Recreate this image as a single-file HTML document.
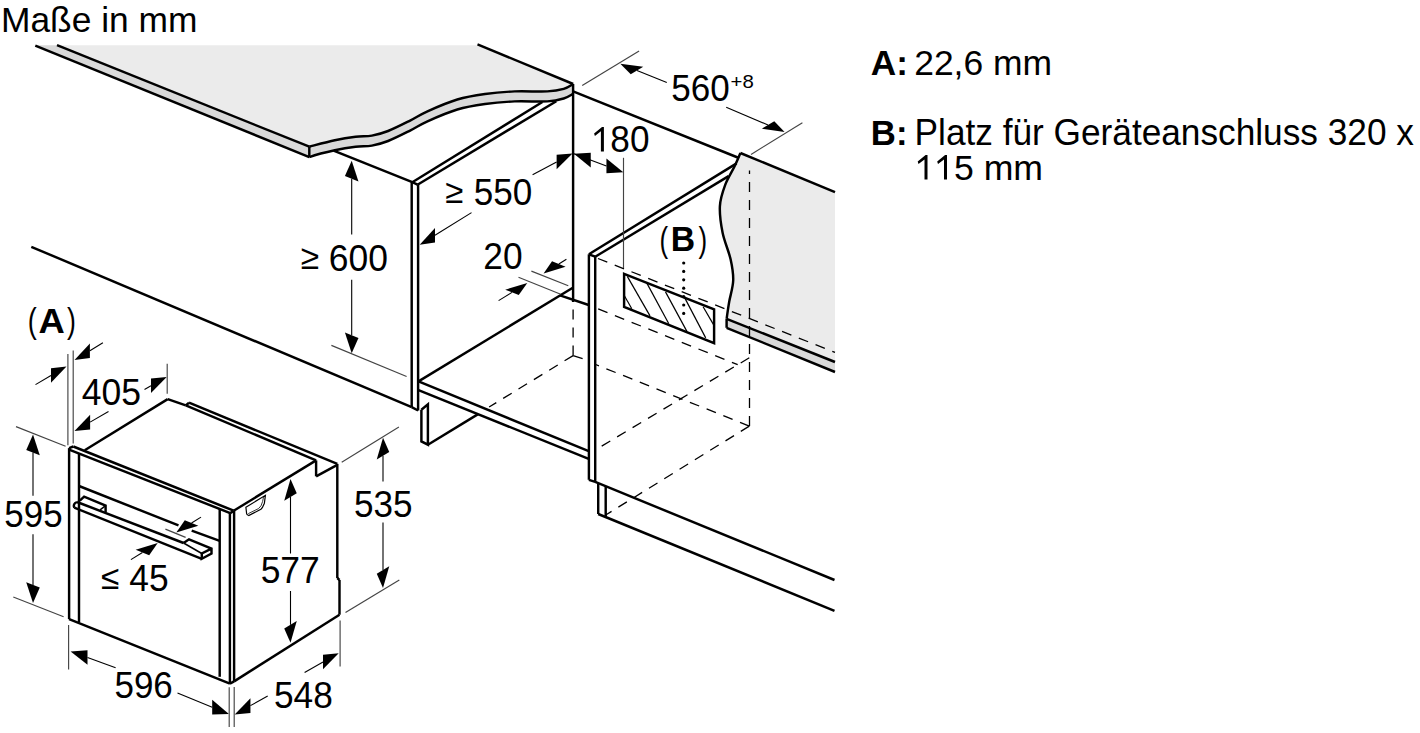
<!DOCTYPE html>
<html><head><meta charset="utf-8"><style>
html,body{margin:0;padding:0;background:#fff;width:1420px;height:733px;overflow:hidden}
svg{display:block}
text{font-family:"Liberation Sans",sans-serif;fill:#000}
</style></head><body>
<svg width="1420" height="733" viewBox="0 0 1420 733">
<g stroke="#000" stroke-linecap="butt" stroke-linejoin="miter" fill="none">
<path d="M57,45.3 L479.4,45.3 L573.2,84 C571.62,84.82 568.02,87.67 563.7,88.9 C559.38,90.13 555.48,90.98 547.3,91.4 C539.12,91.82 524.98,90.97 514.6,91.4 C504.22,91.83 494.55,92.65 485,94 C475.45,95.35 466.88,96.62 457.3,99.5 C447.72,102.38 435.37,107.78 427.5,111.3 C419.63,114.82 416.67,117.32 410.1,120.6 C403.53,123.88 394.47,128.5 388.1,131 C381.73,133.5 377.32,134.63 371.9,135.6 C366.48,136.57 361.78,136.02 355.6,136.8 C349.42,137.58 342.52,138.65 334.8,140.3 C327.08,141.95 313.55,145.63 309.3,146.7 Z" stroke-width="0" fill="#ebebeb" stroke="none"/>
<path d="M35.4,45.3 L57,45.3 L309.3,146.7 C313.55,145.63 327.08,141.95 334.8,140.3 C342.52,138.65 349.42,137.58 355.6,136.8 C361.78,136.02 366.48,136.57 371.9,135.6 C377.32,134.63 381.73,133.5 388.1,131 C394.47,128.5 403.53,123.88 410.1,120.6 C416.67,117.32 419.63,114.82 427.5,111.3 C435.37,107.78 447.72,102.38 457.3,99.5 C466.88,96.62 475.45,95.35 485,94 C494.55,92.65 504.22,91.83 514.6,91.4 C524.98,90.97 539.12,91.82 547.3,91.4 C555.48,90.98 559.38,90.13 563.7,88.9 C568.02,87.67 571.62,84.82 573.2,84 L573.2,93.8 C571.62,94.58 568.02,97.23 563.7,98.5 C559.38,99.77 555.48,100.92 547.3,101.4 C539.12,101.88 524.98,100.97 514.6,101.4 C504.22,101.83 494.55,102.65 485,104 C475.45,105.35 466.88,106.62 457.3,109.5 C447.72,112.38 435.37,117.78 427.5,121.3 C419.63,124.82 416.67,127.32 410.1,130.6 C403.53,133.88 394.47,138.5 388.1,141 C381.73,143.5 377.32,144.63 371.9,145.6 C366.48,146.57 361.78,146.02 355.6,146.8 C349.42,147.58 342.52,148.65 334.8,150.3 C327.08,151.95 313.55,155.63 309.3,156.7 L35.4,45.3 Z" stroke-width="0" fill="#d9d9d9" stroke="none"/>
<line x1="35.3" y1="45.6" x2="309.3" y2="157.1" stroke-width="2.45"/>
<line x1="57" y1="45.2" x2="309.3" y2="146.7" stroke-width="2.45"/>
<line x1="309.3" y1="146.7" x2="309.3" y2="157.1" stroke-width="2.45"/>
<path d="M309.3,146.7 C313.55,145.63 327.08,141.95 334.8,140.3 C342.52,138.65 349.42,137.58 355.6,136.8 C361.78,136.02 366.48,136.57 371.9,135.6 C377.32,134.63 381.73,133.5 388.1,131 C394.47,128.5 403.53,123.88 410.1,120.6 C416.67,117.32 419.63,114.82 427.5,111.3 C435.37,107.78 447.72,102.38 457.3,99.5 C466.88,96.62 475.45,95.35 485,94 C494.55,92.65 504.22,91.83 514.6,91.4 C524.98,90.97 539.12,91.82 547.3,91.4 C555.48,90.98 559.38,90.13 563.7,88.9 C568.02,87.67 571.62,84.82 573.2,84" stroke-width="2.45" fill="none"/>
<path d="M309.3,157.1 C313.55,155.63 327.08,151.95 334.8,150.3 C342.52,148.65 349.42,147.58 355.6,146.8 C361.78,146.02 366.48,146.57 371.9,145.6 C377.32,144.63 381.73,143.5 388.1,141 C394.47,138.5 403.53,133.88 410.1,130.6 C416.67,127.32 419.63,124.82 427.5,121.3 C435.37,117.78 447.72,112.38 457.3,109.5 C466.88,106.62 475.45,105.35 485,104 C494.55,102.65 504.22,101.83 514.6,101.4 C524.98,100.97 539.12,101.88 547.3,101.4 C555.48,100.92 559.38,99.77 563.7,98.5 C568.02,97.23 571.62,94.58 573.2,93.8" stroke-width="2.45" fill="none"/>
<line x1="477.5" y1="44.4" x2="573.2" y2="84" stroke-width="2.45"/>
<path d="M740.4,153 C739.43,155.22 737.13,160.98 734.6,166.3 C732.07,171.62 727.65,178.27 725.2,184.9 C722.75,191.53 720.33,198.13 719.9,206.1 C719.47,214.07 720.82,223.83 722.6,232.7 C724.38,241.57 728.83,251.33 730.6,259.3 C732.37,267.27 733.43,273.42 733.2,280.5 C732.97,287.58 730.3,295.42 729.2,301.8 C728.1,308.18 727.03,315.97 726.6,318.8 L835,362 L835,192.5 Z" stroke-width="0" fill="#ebebeb" stroke="none"/>
<polygon points="726.6,318.8 835,362 835,372 726.6,327.8" stroke="none" fill="#d9d9d9"/>
<line x1="740.4" y1="153" x2="835" y2="192.2" stroke-width="2.45"/>
<path d="M740.4,153 C739.43,155.22 737.13,160.98 734.6,166.3 C732.07,171.62 727.65,178.27 725.2,184.9 C722.75,191.53 720.33,198.13 719.9,206.1 C719.47,214.07 720.82,223.83 722.6,232.7 C724.38,241.57 728.83,251.33 730.6,259.3 C732.37,267.27 733.43,273.42 733.2,280.5 C732.97,287.58 730.3,295.42 729.2,301.8 C728.1,308.18 727.03,315.97 726.6,318.8" stroke-width="2.45" fill="none"/>
<line x1="726.6" y1="318.8" x2="726.6" y2="327.8" stroke-width="2.45"/>
<line x1="726.6" y1="318.8" x2="835" y2="362" stroke-width="2.45"/>
<line x1="726.6" y1="327.8" x2="835" y2="372" stroke-width="2.45"/>
<line x1="333.6" y1="150.7" x2="412.3" y2="182.2" stroke-width="2.45"/>
<line x1="411.7" y1="182.2" x2="411.7" y2="407.2" stroke-width="2.45"/>
<line x1="418.1" y1="184.7" x2="418.1" y2="410.5" stroke-width="2.45"/>
<line x1="412.3" y1="182.2" x2="417.5" y2="184.7" stroke-width="2.45"/>
<line x1="412.3" y1="182.2" x2="542.4" y2="102" stroke-width="2.45"/>
<line x1="417.5" y1="184.7" x2="556.3" y2="101.2" stroke-width="2.45"/>
<line x1="573.1" y1="84" x2="573.1" y2="302" stroke-width="2.45"/>
<line x1="573.1" y1="91.4" x2="739" y2="158" stroke-width="2.45"/>
<line x1="31.3" y1="246.8" x2="411.7" y2="407.2" stroke-width="2.45"/>
<line x1="411.7" y1="407.2" x2="418.1" y2="410.5" stroke-width="2.45"/>
<polyline points="421.4,409.8 421.4,441.4 427.9,444.7 427.9,404.3 421.4,409.8" stroke-width="2.45" fill="none"/>
<line x1="427.9" y1="444.7" x2="478.1" y2="414.1" stroke-width="2.45"/>
<line x1="418.5" y1="381.4" x2="572.8" y2="287.7" stroke-width="2.45"/>
<line x1="418.5" y1="381.4" x2="588.7" y2="451.2" stroke-width="2.45"/>
<line x1="418.5" y1="390.1" x2="588.7" y2="458.9" stroke-width="2.45"/>
<line x1="560" y1="295.3" x2="588.7" y2="305" stroke-width="2.45"/>
<line x1="588.9" y1="254.3" x2="588.9" y2="479.8" stroke-width="2.45"/>
<line x1="595.2" y1="256.7" x2="595.2" y2="481.9" stroke-width="2.45"/>
<line x1="588.9" y1="254.3" x2="595.2" y2="256.7" stroke-width="2.45"/>
<line x1="588.9" y1="254.3" x2="736.6" y2="163.4" stroke-width="2.45"/>
<line x1="595.2" y1="256.7" x2="728.6" y2="176.1" stroke-width="2.45"/>
<line x1="588.9" y1="479.8" x2="595.2" y2="481.9" stroke-width="2.45"/>
<line x1="595.2" y1="481.9" x2="834.5" y2="580" stroke-width="2.45"/>
<line x1="598.2" y1="483.1" x2="598.2" y2="514" stroke-width="2.45"/>
<line x1="605.7" y1="486.2" x2="605.7" y2="516.7" stroke-width="2.45"/>
<line x1="598.2" y1="514" x2="834.5" y2="610.8" stroke-width="2.45"/>
<polygon points="624.1,273.8 714.1,309.4 714.1,343.1 624.1,306.8" stroke-width="2.45" fill="none"/>
<line x1="624.1" y1="295.2" x2="631.8" y2="308.8" stroke-width="1.2"/>
<line x1="627.3" y1="276.4" x2="650" y2="315.9" stroke-width="1.2"/>
<line x1="646.7" y1="282.9" x2="668.8" y2="323.7" stroke-width="1.2"/>
<line x1="665.5" y1="291.9" x2="686.9" y2="331.4" stroke-width="1.2"/>
<line x1="685" y1="298.4" x2="705.7" y2="337.9" stroke-width="1.2"/>
<line x1="703.1" y1="306.8" x2="714.1" y2="325.6" stroke-width="1.2"/>
<circle cx="683.7" cy="263" r="1.6" fill="#000" stroke="none"/>
<circle cx="683.7" cy="271.4" r="1.6" fill="#000" stroke="none"/>
<circle cx="683.7" cy="279.8" r="1.6" fill="#000" stroke="none"/>
<circle cx="683.7" cy="288.2" r="1.6" fill="#000" stroke="none"/>
<circle cx="683.7" cy="296.6" r="1.6" fill="#000" stroke="none"/>
<circle cx="683.7" cy="305" r="1.6" fill="#000" stroke="none"/>
<circle cx="683.7" cy="313.4" r="1.6" fill="#000" stroke="none"/>
<line x1="573.1" y1="355.6" x2="573.1" y2="302" stroke-width="1.3" stroke-dasharray="10 8" stroke-dashoffset="0"/>
<line x1="573.1" y1="355.6" x2="489.1" y2="407" stroke-width="1.3" stroke-dasharray="10 8" stroke-dashoffset="0"/>
<line x1="573.1" y1="355.6" x2="588" y2="360.5" stroke-width="1.3" stroke-dasharray="10 8" stroke-dashoffset="0"/>
<line x1="595.2" y1="257.4" x2="835" y2="352.4" stroke-width="1.3" stroke-dasharray="10 8" stroke-dashoffset="15"/>
<line x1="595.4" y1="307.8" x2="737.7" y2="364.7" stroke-width="1.3" stroke-dasharray="10 8" stroke-dashoffset="15"/>
<line x1="749.3" y1="426.1" x2="595.7" y2="364.5" stroke-width="1.3" stroke-dasharray="10 8" stroke-dashoffset="0"/>
<line x1="749.5" y1="426.1" x2="749.5" y2="170.6" stroke-width="1.3" stroke-dasharray="10 8" stroke-dashoffset="0"/>
<line x1="749.3" y1="357.8" x2="595.5" y2="449.8" stroke-width="1.3" stroke-dasharray="10 8" stroke-dashoffset="0"/>
<line x1="749.3" y1="426.1" x2="605.7" y2="515" stroke-width="1.3" stroke-dasharray="10 8" stroke-dashoffset="0"/>
<line x1="69.1" y1="448.1" x2="69.1" y2="619.2" stroke-width="2.45"/>
<line x1="79" y1="453.7" x2="79" y2="622.1" stroke-width="2.45"/>
<line x1="69.1" y1="448.1" x2="73.3" y2="446.5" stroke-width="2.45"/>
<line x1="73.3" y1="446.5" x2="233.7" y2="510.7" stroke-width="2.45"/>
<line x1="69.1" y1="449.7" x2="230.2" y2="513.1" stroke-width="2.45"/>
<line x1="230.2" y1="513.1" x2="233.7" y2="511" stroke-width="2.45"/>
<line x1="219.7" y1="509" x2="219.7" y2="676.8" stroke-width="2.45"/>
<line x1="229.9" y1="513.1" x2="229.9" y2="683.6" stroke-width="2.45"/>
<line x1="234.1" y1="511" x2="234.1" y2="681.4" stroke-width="2.45"/>
<line x1="69.1" y1="619.2" x2="229.9" y2="683.6" stroke-width="2.45"/>
<line x1="229.9" y1="683.6" x2="234.1" y2="681.4" stroke-width="2.45"/>
<line x1="234.1" y1="681.4" x2="339.5" y2="614.7" stroke-width="2.45"/>
<line x1="84.7" y1="450.3" x2="167.7" y2="399.1" stroke-width="2.45"/>
<line x1="167.7" y1="399.1" x2="185.8" y2="405.4" stroke-width="2.45"/>
<line x1="185.8" y1="405.4" x2="189" y2="402.7" stroke-width="2.45"/>
<line x1="189" y1="402.7" x2="337.3" y2="463.9" stroke-width="2.45"/>
<line x1="185.8" y1="405.4" x2="316.1" y2="460.4" stroke-width="2.45"/>
<line x1="316.1" y1="460.4" x2="316.1" y2="476.3" stroke-width="2.45"/>
<line x1="316.1" y1="476.3" x2="337.3" y2="464.8" stroke-width="2.45"/>
<line x1="233.7" y1="510.7" x2="316.1" y2="460.4" stroke-width="2.45"/>
<line x1="337.3" y1="463.9" x2="337.3" y2="578" stroke-width="2.45"/>
<line x1="337.3" y1="578" x2="339.5" y2="580" stroke-width="2.45"/>
<line x1="339.5" y1="580" x2="339.5" y2="614.7" stroke-width="2.45"/>
<line x1="79" y1="486" x2="178.5" y2="525.4" stroke-width="2.45"/>
<line x1="191.7" y1="530.6" x2="219.7" y2="540.8" stroke-width="2.45"/>
<path d="M79.8,500.7 L84.1,496.7 L105.6,505.6 L105.6,512" stroke-width="2.45" fill="none"/>
<line x1="100.1" y1="509.9" x2="105.6" y2="505.6" stroke-width="1.5"/>
<path d="M77,502 Q72.5,504 74.3,507.7" stroke-width="2.45" fill="none"/>
<line x1="77" y1="502" x2="183.6" y2="543" stroke-width="2.45"/>
<line x1="74.3" y1="507.7" x2="201.8" y2="558.8" stroke-width="2.45"/>
<path d="M183.6,543 L189,539.3 L211.5,548.6 L211.5,553.5 L201.8,558.8 L201.8,553.5 L211.5,548.6" stroke-width="2.45" fill="none"/>
<line x1="183.6" y1="543" x2="201.8" y2="553.5" stroke-width="1.5"/>
<path d="M245.9,507.3 L265.4,495.3 L264.4,503.2 Q262.5,508 260.9,509.3 L248.7,515.5 Q246.5,515 246.6,513.4 Z" stroke-width="1.2" fill="none"/>
<path d="M248.3,513.6 L258.5,508.6 Q261.5,506.5 262.6,501.5 L263.6,496.5" stroke-width="0.8" fill="none"/>
<line x1="351.7" y1="234.6" x2="351.7" y2="178.7" stroke-width="1.1"/>
<polygon points="351.7,160.7 358.48,181.41 344.92,175.99" fill="#000" stroke="none"/>
<line x1="351.7" y1="279.7" x2="351.7" y2="335.2" stroke-width="1.1"/>
<polygon points="351.7,353.2 358.48,337.91 344.92,332.49" fill="#000" stroke="none"/>
<line x1="331.4" y1="345.4" x2="406.6" y2="376.5" stroke-width="1.15" stroke="#444"/>
<line x1="471.5" y1="212.6" x2="434.99" y2="235.3" stroke-width="1.1"/>
<polygon points="419.7,244.8 434.99,242.6 434.99,228" fill="#000" stroke="none"/>
<line x1="532.6" y1="174.8" x2="556.6" y2="162.05" stroke-width="1.1"/>
<polygon points="572.5,153.6 556.6,169.35 556.6,154.75" fill="#000" stroke="none"/>
<polygon points="573.9,153.8 590.77,167.38 590.77,152.78" fill="#000" stroke="none"/>
<line x1="573.9" y1="153.8" x2="606.43" y2="165.92" stroke-width="1.1"/>
<polygon points="623.3,172.2 606.43,173.22 606.43,158.62" fill="#000" stroke="none"/>
<line x1="623.5" y1="157.8" x2="623.5" y2="268" stroke-width="1.15" stroke="#444"/>
<line x1="666.8" y1="82.5" x2="636.99" y2="70.45" stroke-width="1.1"/>
<polygon points="620.3,63.7 643.25,66.69 630.73,74.2" fill="#000" stroke="none"/>
<line x1="726.2" y1="107.3" x2="768.02" y2="124.99" stroke-width="1.1"/>
<polygon points="784.6,132 774.28,121.23 761.76,128.74" fill="#000" stroke="none"/>
<line x1="582.2" y1="85.5" x2="639.1" y2="50.9" stroke-width="1.15" stroke="#444"/>
<line x1="751" y1="154.4" x2="802.4" y2="122.7" stroke-width="1.15" stroke="#444"/>
<line x1="566.4" y1="259.2" x2="558.82" y2="263.99" stroke-width="1.1"/>
<polygon points="543.6,273.6 565.6,266.7 552.04,261.28" fill="#000" stroke="none"/>
<line x1="498.6" y1="300.6" x2="511.98" y2="292.35" stroke-width="1.1"/>
<polygon points="527.3,282.9 518.76,295.06 505.2,289.64" fill="#000" stroke="none"/>
<line x1="531.4" y1="271.1" x2="568.3" y2="285.7" stroke-width="1.15" stroke="#444"/>
<line x1="518.5" y1="277.3" x2="560.7" y2="294.3" stroke-width="1.15" stroke="#444"/>
<line x1="102.9" y1="342.8" x2="89.87" y2="350.74" stroke-width="1.1"/>
<polygon points="74.5,360.1 89.87,358.04 89.87,343.44" fill="#000" stroke="none"/>
<line x1="35.5" y1="384.6" x2="50.98" y2="375.51" stroke-width="1.1"/>
<polygon points="66.5,366.4 50.98,382.81 50.98,368.21" fill="#000" stroke="none"/>
<line x1="67.9" y1="353.9" x2="67.9" y2="445.3" stroke-width="1.15" stroke="#444"/>
<line x1="73.2" y1="350.4" x2="73.2" y2="443.5" stroke-width="1.15" stroke="#444"/>
<line x1="144.5" y1="389.4" x2="150.99" y2="385.78" stroke-width="1.1"/>
<polygon points="166.7,377 150.99,393.08 150.99,378.48" fill="#000" stroke="none"/>
<line x1="108.5" y1="411.6" x2="90.11" y2="422.14" stroke-width="1.1"/>
<polygon points="74.5,431.1 90.11,429.44 90.11,414.84" fill="#000" stroke="none"/>
<line x1="167.2" y1="363.7" x2="167.2" y2="393.8" stroke-width="1.15" stroke="#444"/>
<line x1="33" y1="495.8" x2="33" y2="452.6" stroke-width="1.1"/>
<polygon points="33,434.6 39.78,455.31 26.22,449.89" fill="#000" stroke="none"/>
<line x1="33" y1="534.3" x2="33" y2="584.9" stroke-width="1.1"/>
<polygon points="33,602.9 39.78,587.61 26.22,582.19" fill="#000" stroke="none"/>
<line x1="16" y1="426.6" x2="65.6" y2="446.2" stroke-width="1.15" stroke="#444"/>
<line x1="13.3" y1="597" x2="63.6" y2="616.8" stroke-width="1.15" stroke="#444"/>
<line x1="201" y1="517.1" x2="191.57" y2="522.98" stroke-width="1.1"/>
<polygon points="176.3,532.5 198.35,525.69 184.8,520.27" fill="#000" stroke="none"/>
<line x1="130.9" y1="559.6" x2="142.42" y2="552.42" stroke-width="1.1"/>
<polygon points="157.7,542.9 149.2,555.13 135.65,549.71" fill="#000" stroke="none"/>
<line x1="165.4" y1="529.1" x2="185.6" y2="537.4" stroke-width="1.15" stroke="#444"/>
<line x1="290.5" y1="553.5" x2="290.5" y2="496.9" stroke-width="1.1"/>
<polygon points="290.5,478.9 296.76,493.14 284.24,500.66" fill="#000" stroke="none"/>
<line x1="290.5" y1="591" x2="290.5" y2="624.8" stroke-width="1.1"/>
<polygon points="290.5,642.8 296.76,621.04 284.24,628.56" fill="#000" stroke="none"/>
<line x1="383" y1="481.5" x2="383" y2="455.8" stroke-width="1.1"/>
<polygon points="383,437.8 389.26,452.04 376.74,459.56" fill="#000" stroke="none"/>
<line x1="383" y1="522.5" x2="383" y2="570.1" stroke-width="1.1"/>
<polygon points="383,588.1 389.26,566.34 376.74,573.86" fill="#000" stroke="none"/>
<line x1="341.7" y1="462.2" x2="398.9" y2="427" stroke-width="1.15" stroke="#444"/>
<line x1="345.5" y1="612.6" x2="399.3" y2="580.1" stroke-width="1.15" stroke="#444"/>
<line x1="115.6" y1="667.7" x2="87.52" y2="657.53" stroke-width="1.1"/>
<polygon points="70.6,651.4 87.52,664.83 87.52,650.23" fill="#000" stroke="none"/>
<line x1="177.5" y1="693.1" x2="212.21" y2="707.15" stroke-width="1.1"/>
<polygon points="228.9,713.9 212.21,714.45 212.21,699.85" fill="#000" stroke="none"/>
<line x1="68.6" y1="625" x2="68.6" y2="669.4" stroke-width="1.15" stroke="#444"/>
<line x1="229.2" y1="687.2" x2="229.2" y2="727.1" stroke-width="1.15" stroke="#444"/>
<line x1="267.7" y1="696" x2="250.42" y2="705.63" stroke-width="1.1"/>
<polygon points="234.7,714.4 250.42,712.93 250.42,698.33" fill="#000" stroke="none"/>
<line x1="304.6" y1="672.4" x2="323.02" y2="662.03" stroke-width="1.1"/>
<polygon points="338.7,653.2 323.02,669.33 323.02,654.73" fill="#000" stroke="none"/>
<line x1="234.2" y1="687" x2="234.2" y2="727" stroke-width="1.15" stroke="#444"/>
<line x1="340.1" y1="620.6" x2="340.1" y2="666.5" stroke-width="1.15" stroke="#444"/>
</g>
<g>
<text transform="translate(0.96,32.42) scale(0.9877,1)" font-size="35.8" font-weight="normal">Maße in mm</text>
<text transform="translate(300.76,268.60) scale(0.9248,0.9517)" font-size="36.3" font-weight="normal">≥</text>
<text transform="translate(328.77,271.12) scale(0.9764,1)" font-size="36.3" font-weight="normal">600</text>
<text transform="translate(445.18,202.50) scale(0.9078,0.9333)" font-size="36.3" font-weight="normal">≥</text>
<text transform="translate(473.75,205.03) scale(0.9666,1)" font-size="36.3" font-weight="normal">550</text>
<text transform="translate(483.28,268.73) scale(0.9730,1)" font-size="36.3" font-weight="normal">20</text>
<polygon points="603.90,126.90 603.90,151.60 600.90,151.60 600.90,131.30 594.90,135.90 594.10,133.50 602.00,126.90" fill="#000"/>
<text transform="translate(610.33,152.03) scale(0.9691,1)" font-size="36.3" font-weight="normal">80</text>
<text transform="translate(671.25,100.92) scale(0.9649,1)" font-size="36.3" font-weight="normal">560</text>
<text transform="translate(730.58,88.28) scale(1.1646,1)" font-size="17.5" font-weight="normal">+8</text>
<text transform="translate(659.44,251.65) scale(0.7351,1)" font-size="35.2" font-weight="normal">(</text>
<text transform="translate(670.82,251.20) scale(0.9591,1)" font-size="35.2" font-weight="bold">B</text>
<text transform="translate(698.62,251.65) scale(0.7351,1)" font-size="35.2" font-weight="normal">)</text>
<text transform="translate(27.87,333.15) scale(0.7676,1)" font-size="35.2" font-weight="normal">(</text>
<text transform="translate(38.40,333.00) scale(1.0340,1)" font-size="35.2" font-weight="bold">A</text>
<text transform="translate(67.11,333.15) scale(0.7568,1)" font-size="35.2" font-weight="normal">)</text>
<text transform="translate(81.84,404.73) scale(0.9789,1)" font-size="36.3" font-weight="normal">405</text>
<text transform="translate(4.36,527.33) scale(0.9617,1)" font-size="36.3" font-weight="normal">595</text>
<text transform="translate(100.97,588.50) scale(0.9191,0.9287)" font-size="36.3" font-weight="normal">≤</text>
<text transform="translate(129.35,591.12) scale(0.9743,1)" font-size="36.3" font-weight="normal">45</text>
<text transform="translate(260.64,583.12) scale(0.9764,1)" font-size="36.3" font-weight="normal">577</text>
<text transform="translate(353.95,516.83) scale(0.9670,1)" font-size="36.3" font-weight="normal">535</text>
<text transform="translate(114.45,697.83) scale(0.9635,1)" font-size="36.3" font-weight="normal">596</text>
<text transform="translate(273.94,707.62) scale(0.9722,1)" font-size="36.3" font-weight="normal">548</text>
<text transform="translate(870.74,74.70) scale(0.9784,1)" font-size="36" font-weight="bold">A:</text>
<text transform="translate(914.18,74.70) scale(0.9855,1)" font-size="36" font-weight="normal">22,6 mm</text>
<text transform="translate(870.81,144.80) scale(0.9650,1)" font-size="36" font-weight="bold">B:</text>
<text transform="translate(914.56,144.82) scale(0.9789,1)" font-size="36" font-weight="normal">Platz für Geräteanschluss 320 x</text>
<polygon points="927.50,155.00 927.50,179.50 924.50,179.50 924.50,159.40 918.50,164.00 917.70,161.60 925.60,155.00" fill="#000"/>
<polygon points="947.00,155.00 947.00,179.50 944.00,179.50 944.00,159.40 938.00,164.00 937.20,161.60 945.10,155.00" fill="#000"/>
<text transform="translate(953.91,180.22) scale(0.9904,1)" font-size="36" font-weight="normal">5 mm</text>
</g>
</svg>
</body></html>
